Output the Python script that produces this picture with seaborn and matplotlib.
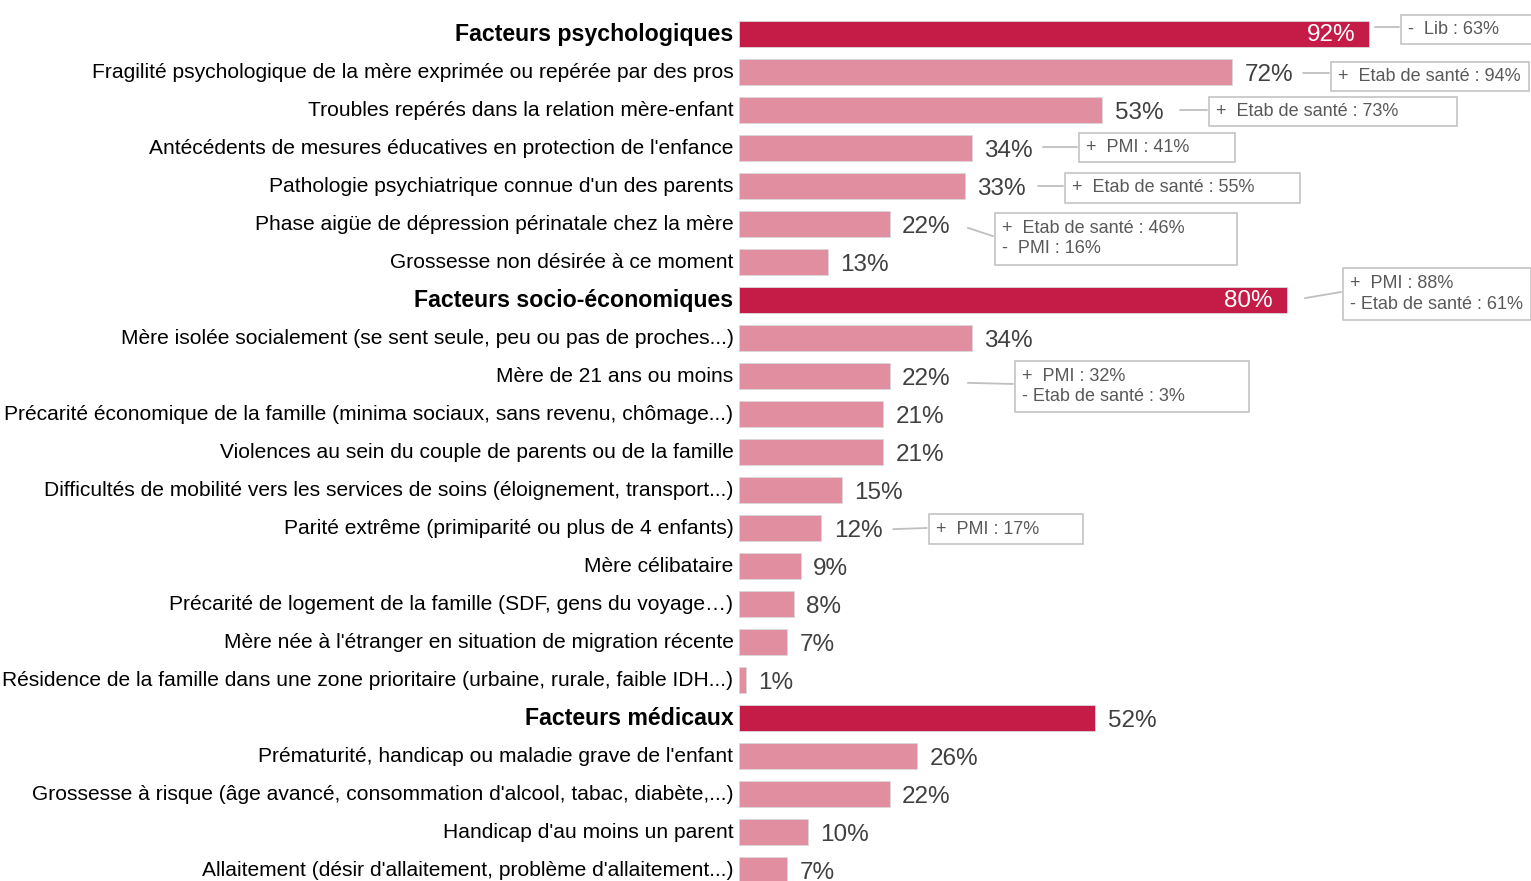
import matplotlib

matplotlib.use("Agg")
import matplotlib.pyplot as plt
import matplotlib.transforms as mtransforms
import pandas as pd
import seaborn as sns
from matplotlib.patches import Rectangle

# ---------------------------------------------------------------------------
# Data
# ---------------------------------------------------------------------------
labels = [
    "Facteurs psychologiques",
    "Fragilité psychologique de la mère exprimée ou repérée par des pros",
    "Troubles repérés dans la relation mère-enfant",
    "Antécédents de mesures éducatives en protection de l'enfance",
    "Pathologie psychiatrique connue d'un des parents",
    "Phase aigüe de dépression périnatale chez la mère",
    "Grossesse non désirée à ce moment",
    "Facteurs socio-économiques",
    "Mère isolée socialement (se sent seule, peu ou pas de proches...)",
    "Mère de 21 ans ou moins",
    "Précarité économique de la famille (minima sociaux, sans revenu, chômage...)",
    "Violences au sein du couple de parents ou de la famille",
    "Difficultés de mobilité vers les services de soins (éloignement, transport...)",
    "Parité extrême (primiparité ou plus de 4 enfants)",
    "Mère célibataire",
    "Précarité de logement de la famille (SDF, gens du voyage…)",
    "Mère née à l'étranger en situation de migration récente",
    "Résidence de la famille dans une zone prioritaire (urbaine, rurale, faible IDH...)",
    "Facteurs médicaux",
    "Prématurité, handicap ou maladie grave de l'enfant",
    "Grossesse à risque (âge avancé, consommation d'alcool, tabac, diabète,...)",
    "Handicap d'au moins un parent",
    "Allaitement (désir d'allaitement, problème d'allaitement...)",
]
values = [92, 72, 53, 34, 33, 22, 13, 80, 34, 22, 21, 21, 15, 12, 9, 8, 7, 1,
          52, 26, 22, 10, 7]
kinds = ["group", "item", "item", "item", "item", "item", "item",
         "group", "item", "item", "item", "item", "item", "item", "item",
         "item", "item", "item",
         "group", "item", "item", "item", "item"]

# comparison notes per row
note_rows = [0, 1, 2, 3, 4, 5, 7, 9, 13]
note_texts = [
    "-  Lib : 63%",
    "+  Etab de santé : 94%",
    "+  Etab de santé : 73%",
    "+  PMI : 41%",
    "+  Etab de santé : 55%",
    "+  Etab de santé : 46%\n-  PMI : 16%",
    "+  PMI : 88%\n- Etab de santé : 61%",
    "+  PMI : 32%\n- Etab de santé : 3%",
    "+  PMI : 17%",
]

# layout of the note boxes (data units: x in %, y in rows)
box_left = [96.6, 86.4, 68.6, 49.6, 47.6, 37.4, 88.2, 40.3, 27.7]
box_yc = [-0.12, 1.12, 2.04, 2.99, 4.05, 5.39, 6.84, 9.28, 13.03]
box_w = [20.4, 28.9, 36.2, 22.8, 34.3, 35.3, 27.4, 34.2, 22.5]
box_h = [0.76, 0.76, 0.76, 0.76, 0.79, 1.37, 1.37, 1.34, 0.79]
line_x0 = [92.8, 82.3, 64.4, 44.4, 43.6, 33.4, 82.6, 33.4, 22.5]
line_y0 = [-0.18, 1.03, 2.0, 2.97, 4.0, 5.1, 6.95, 9.18, 13.03]
line_y1 = [-0.18, 1.03, 2.0, 2.97, 4.0, 5.32, 6.79, 9.21, 13.0]

df = pd.DataFrame({"label": labels, "value": values, "kind": kinds})

GROUP_COLOR = "#C51B47"
ITEM_COLOR = "#E08EA0"
FONT = ["Liberation Sans", "DejaVu Sans"]

sns.set_style("white")
plt.rcParams["font.family"] = FONT

fig = plt.figure(figsize=(15.31, 8.81), dpi=100)
ax = fig.add_axes([739 / 1531, 0, 792 / 1531, 1])

sns.barplot(
    data=df, x="value", y="label", hue="kind",
    palette={"group": GROUP_COLOR, "item": ITEM_COLOR}, saturation=1,
    dodge=False, width=0.66, orient="h", legend=False, ax=ax,
    edgecolor="#D9D9D9", linewidth=0.6,
)

ax.set_xlim(0, 792 / 6.85)
ax.set_ylim((881 - 34) / 38, -34 / 38)
ax.set_xlabel("")
ax.set_ylabel("")
ax.set_xticks([])
sns.despine(ax=ax, left=True, bottom=True)
ax.tick_params(axis="y", length=0, pad=4, labelsize=15.1)
shift_up = mtransforms.ScaledTranslation(0, 2 / 100, fig.dpi_scale_trans)
for tl, k in zip(ax.get_yticklabels(), kinds):
    tl.set_color("black")
    tl.set_transform(tl.get_transform() + shift_up)
    if k == "group":
        tl.set_fontweight("bold")
        tl.set_fontsize(16.7)

# value labels
for i, (v, k) in enumerate(zip(values, kinds)):
    if i in (0, 7):
        ax.annotate(f"{v}%", (v, i), xytext=(-10, -1), textcoords="offset points",
                    ha="right", va="center", fontsize=17.5, color="white")
    else:
        ax.annotate(f"{v}%", (v, i), xytext=(9, -2.5), textcoords="offset points",
                    ha="left", va="center", fontsize=17.5, color="#404040")

# comparison notes
for r, txt, bl, yc, bw, bh, x0, y0, y1 in zip(
    note_rows, note_texts, box_left, box_yc, box_w, box_h,
    line_x0, line_y0, line_y1
):
    ax.plot([x0, bl - 0.3], [y0, y1], color="#BFBFBF", lw=1.3,
            clip_on=False, zorder=2)
    ax.add_patch(Rectangle((bl, yc - bh / 2), bw, bh, facecolor="white",
                           edgecolor="#BFBFBF", lw=1.1, clip_on=False,
                           zorder=3))
    ax.text(bl + 1.0, yc, txt, ha="left", va="center", fontsize=13,
            color="#595959", linespacing=1.25, zorder=4)

fig.savefig("out.png", dpi=100)
